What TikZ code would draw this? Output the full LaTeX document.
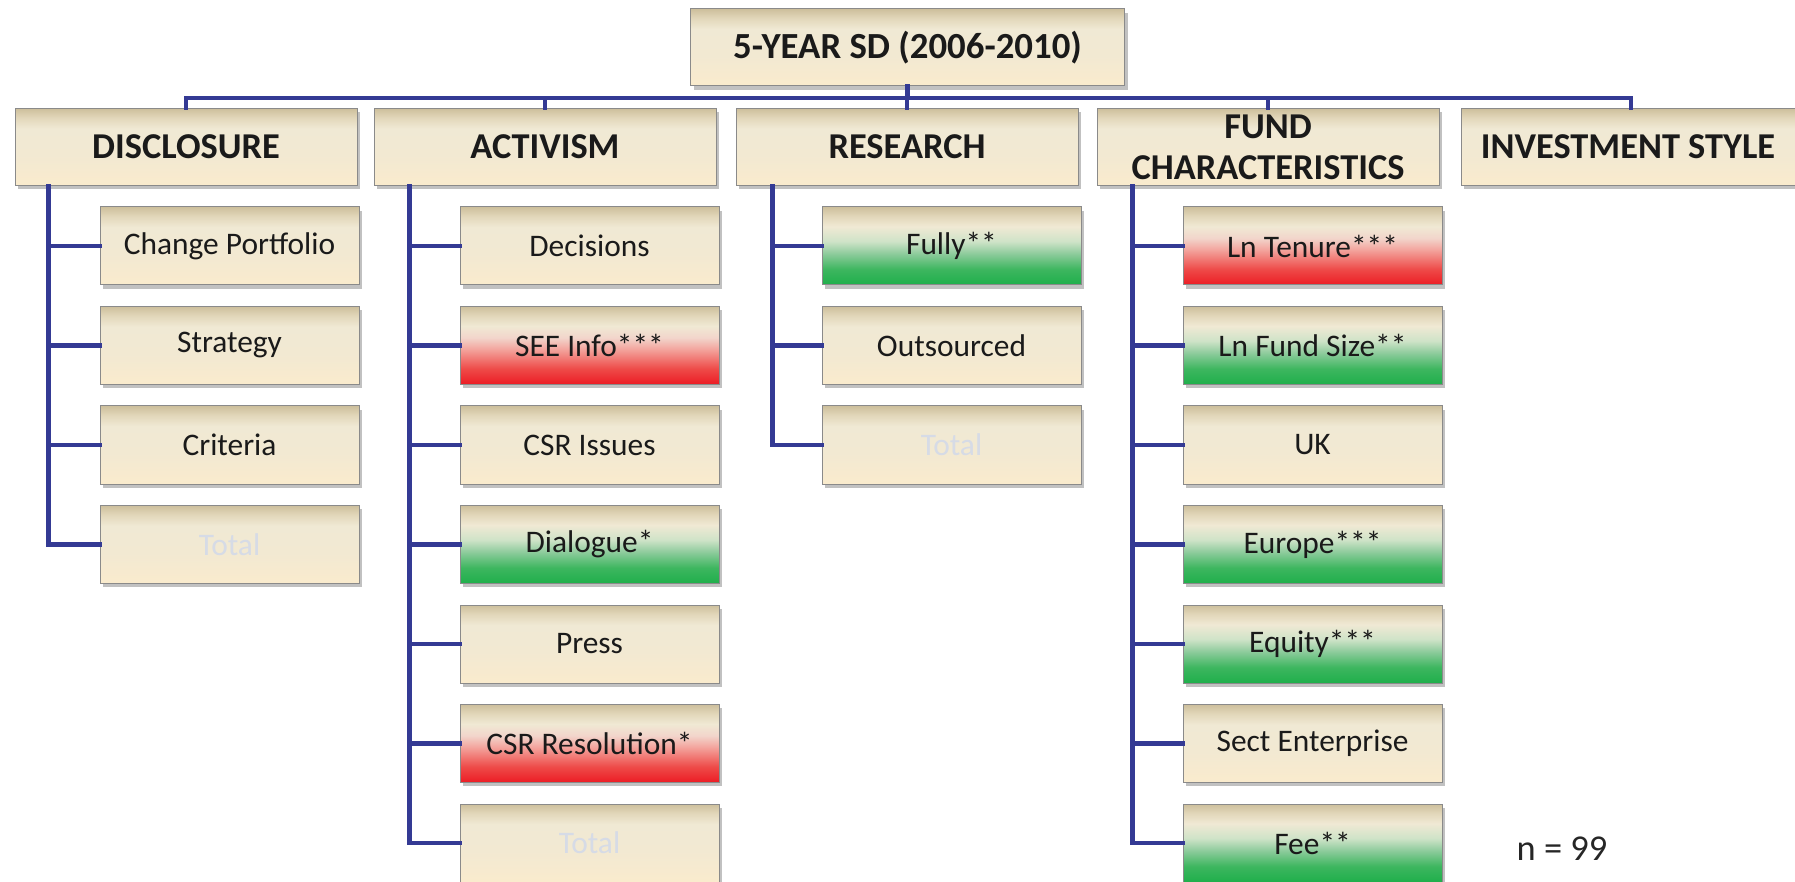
\documentclass[tikz,border=0pt]{standalone}
\usepackage{fontspec}
\setmainfont{Carlito}
\usetikzlibrary{shadows}

% box colours
\definecolor{bgTop}{HTML}{CDBF9C}
\definecolor{bgUp}{HTML}{E2D7BA}
\definecolor{bgMid}{HTML}{F0E9D4}
\definecolor{bgMidB}{HTML}{F2E9D2}
\definecolor{bgBot}{HTML}{FAEBCD}
\definecolor{rdA}{HTML}{F2D5CB}
\definecolor{rdB}{HTML}{F3A39C}
\definecolor{rdC}{HTML}{EE4A48}
\definecolor{rdD}{HTML}{EC1C24}
\definecolor{grA}{HTML}{CFE3C8}
\definecolor{grB}{HTML}{8CCB9B}
\definecolor{grC}{HTML}{3DB65F}
\definecolor{grD}{HTML}{1FAF4B}
\definecolor{linkblue}{RGB}{52,58,148}
\definecolor{boxborder}{HTML}{8A8A8A}
\definecolor{txt}{HTML}{1A1A1A}
\definecolor{faint}{HTML}{D6DBE6}

% vertical shadings: 25bp = bottom edge, 75bp = top edge
\pgfdeclareverticalshading{beigeshade}{100bp}{color(0bp)=(bgBot); color(25bp)=(bgBot);
  color(45bp)=(bgMidB); color(62bp)=(bgMid); color(69bp)=(bgUp); color(75bp)=(bgTop); color(100bp)=(bgTop)}
\pgfdeclareverticalshading{redshade}{100bp}{color(0bp)=(rdD); color(25bp)=(rdD);
  color(35bp)=(rdC); color(47.5bp)=(rdB); color(55bp)=(rdA); color(62.5bp)=(bgMid); color(69bp)=(bgUp); color(75bp)=(bgTop); color(100bp)=(bgTop)}
\pgfdeclareverticalshading{greenshade}{100bp}{color(0bp)=(grD); color(25bp)=(grD);
  color(35bp)=(grC); color(45bp)=(grB); color(53bp)=(grA); color(62.5bp)=(bgMid); color(69bp)=(bgUp); color(75bp)=(bgTop); color(100bp)=(bgTop)}

\tikzset{
  basebox/.style={draw=boxborder, line width=0.5pt, shade, shading=beigeshade,
    drop shadow={shadow xshift=1.6pt, shadow yshift=-1.8pt, opacity=0.35, fill=black!70},
    inner sep=0pt, align=center, text=txt},
  rootbox/.style={basebox, minimum width=217pt, minimum height=38.5pt,
    font=\bfseries\fontsize{18.4pt}{21pt}\selectfont},
  headbox/.style={basebox, minimum width=171pt, minimum height=38.5pt,
    font=\bfseries\fontsize{18.2pt}{20.6pt}\selectfont},
  widehead/.style={headbox, minimum width=178pt},
  itembox/.style={basebox, minimum width=129.5pt, minimum height=39pt,
    font=\fontsize{15.7pt}{18pt}\selectfont},
  redbox/.style={itembox, shading=redshade},
  greenbox/.style={itembox, shading=greenshade},
  totalbox/.style={itembox, text=faint},
  conn/.style={draw=linkblue, line width=2.25pt, line join=miter, line cap=rect},
}

\begin{document}
\begin{tikzpicture}[x=0.5pt, y=-0.5pt]
\useasboundingbox (0,0) rectangle (1795,882);

% top of the tree
\node[rootbox] (root) at (907.5,47.5) {5-YEAR SD (2006-2010)};
\coordinate (bus) at (907.5,98);

% category headers
\node[headbox] (disc) at (186,147) {DISCLOSURE};
\node[headbox] (act)  at (545,147) {ACTIVISM};
\node[headbox] (res)  at (907,147) {RESEARCH};
\node[headbox] (fund) at (1268,147) {FUND\\CHARACTERISTICS};
\node[widehead] (inv) at (1639,147) {\hspace*{-11pt}INVESTMENT STYLE};

% disclosure items
\node[itembox]  (d1) at (229.5,246)   {Change Portfolio};
\node[itembox]  (d2) at (229.5,345.5) {Strategy};
\node[itembox]  (d3) at (229.5,445)   {Criteria};
\node[totalbox] (d4) at (229.5,544.5) {Total};

% activism items
\node[itembox]   (a1) at (589.5,246)   {Decisions};
\node[redbox]    (a2) at (589.5,345.5) {SEE Info***};
\node[itembox]   (a3) at (589.5,445)   {CSR Issues};
\node[greenbox]  (a4) at (589.5,544.5) {Dialogue*};
\node[itembox]   (a5) at (589.5,644)   {Press};
\node[redbox]    (a6) at (589.5,743.5) {CSR Resolution*};
\node[totalbox]  (a7) at (589.5,843)   {Total};

% research items
\node[greenbox] (r1) at (951.5,246)   {Fully**};
\node[itembox]  (r2) at (951.5,345.5) {Outsourced};
\node[totalbox] (r3) at (951.5,445)   {Total};

% fund characteristics items
\node[redbox]   (f1) at (1312.5,246)   {Ln Tenure***};
\node[greenbox] (f2) at (1312.5,345.5) {Ln Fund Size**};
\node[itembox]  (f3) at (1312.5,445)   {UK};
\node[greenbox] (f4) at (1312.5,544.5) {Europe***};
\node[greenbox] (f5) at (1312.5,644)   {Equity***};
\node[itembox]  (f6) at (1312.5,743.5) {Sect Enterprise};
\node[greenbox] (f7) at (1312.5,843)   {Fee**};

\node[font=\fontsize{18.2pt}{21pt}\selectfont, text=black!85] (n) at (1562,849) {n = 99};

% bus between root and headers
\coordinate (invdrop) at (1631,0);
\draw[conn] (root.south) -- (bus);
\draw[conn] (disc.north) |- (bus) -| (invdrop |- inv.north);
\draw[conn] (act.north) -- (act.north |- bus);
\draw[conn] (res.north) -- (res.north |- bus);
\draw[conn] (fund.north) -- (fund.north |- bus);

% item trunks
\coordinate (dt) at ([xshift=17pt]disc.south west);
\coordinate (at) at ([xshift=18pt]act.south west);
\coordinate (rt) at ([xshift=18.5pt]res.south west);
\coordinate (ft) at ([xshift=18pt]fund.south west);

\draw[conn] (dt) |- (d4.west);
\foreach \c in {d1,d2,d3} \draw[conn] (dt |- \c.west) -- (\c.west);
\draw[conn] (at) |- (a7.west);
\foreach \c in {a1,a2,a3,a4,a5,a6} \draw[conn] (at |- \c.west) -- (\c.west);
\draw[conn] (rt) |- (r3.west);
\foreach \c in {r1,r2} \draw[conn] (rt |- \c.west) -- (\c.west);
\draw[conn] (ft) |- (f7.west);
\foreach \c in {f1,f2,f3,f4,f5,f6} \draw[conn] (ft |- \c.west) -- (\c.west);
\end{tikzpicture}
\end{document}
